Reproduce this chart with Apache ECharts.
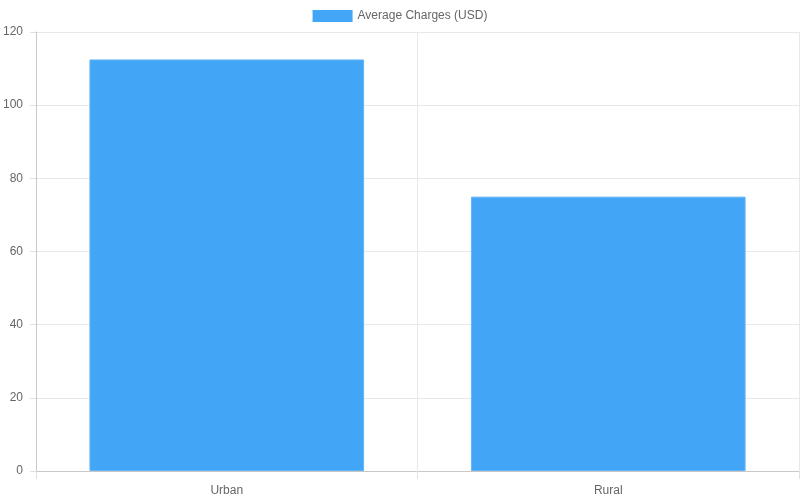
<!DOCTYPE html>
<html>
<head>
<meta charset="utf-8">
<script src="https://cdn.jsdelivr.net/npm/echarts@6/dist/echarts.min.js"></script>
<style>
  html, body { margin: 0; padding: 0; background: #fff; }
  #chart { width: 800px; height: 500px; }
</style>
</head>
<body>
<div id="chart"></div>
<script>
const categories = ['Urban', 'Rural']
const seriesName = 'Average Charges (USD)'
const charges = [112.5, 75]

const chart = echarts.init(document.getElementById('chart'))
chart.setOption({
  animation: false,
  textStyle: { fontFamily: 'Liberation Sans, Arial, sans-serif' },
  legend: {
    top: 5,
    left: 'center',
    icon: 'rect',
    itemWidth: 40,
    itemHeight: 12,
    itemGap: 10,
    itemStyle: { borderWidth: 0 },
    textStyle: { color: '#666', fontSize: 12 },
    data: [seriesName]
  },
  grid: { left: 35, right: 1, top: 32, bottom: 29, containLabel: false },
  xAxis: {
    type: 'category',
    data: categories,
    axisLine: { lineStyle: { color: '#c8c8c8' } },
    axisTick: { show: true, length: 8, lineStyle: { color: '#e0e0e0' } },
    splitLine: { show: true, lineStyle: { color: '#e8e8e8' } },
    axisLabel: { color: '#666', fontSize: 12, margin: 14 }
  },
  yAxis: {
    type: 'value',
    min: 0,
    max: 120,
    interval: 20,
    axisLine: { show: true, lineStyle: { color: '#c8c8c8' } },
    axisTick: { show: true, length: 6, lineStyle: { color: '#e0e0e0' } },
    splitLine: { show: true, lineStyle: { color: '#e8e8e8' } },
    axisLabel: { color: '#666', fontSize: 12, margin: 13 }
  },
  series: [
    {
      name: seriesName,
      type: 'bar',
      data: charges,
      barCategoryGap: '28%',
      itemStyle: { color: '#42A5F5', borderColor: '#64B5F6', borderWidth: 1 }
    }
  ]
})
</script>
</body>
</html>
